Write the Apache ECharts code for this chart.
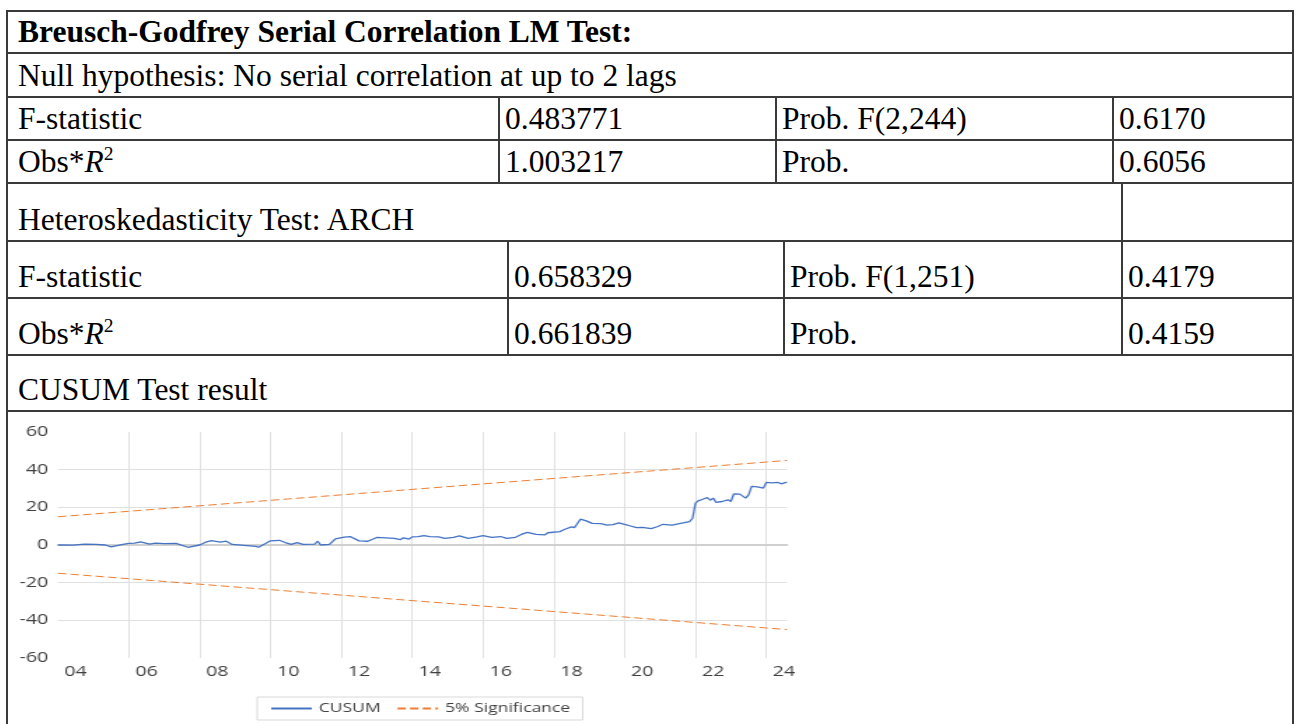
<!DOCTYPE html>
<html>
<head>
<meta charset="utf-8">
<title>CUSUM Test result</title>
<script src="https://cdn.jsdelivr.net/npm/echarts@6.0.0/dist/echarts.min.js"></script>
<style>
  html, body { margin: 0; padding: 0; background: #fff; }
  body { position: relative; width: 1295px; height: 724px; overflow: hidden; }
  .cell {
    position: absolute;
    box-sizing: border-box;
    border: 2px solid #3a3a3a;
    display: flex;
    align-items: flex-end;
    padding: 0 0 5px 5px;
    font-family: "Liberation Serif", "Times New Roman", serif;
    font-size: 31.5px;
    line-height: 1;
    color: #000;
    white-space: nowrap;
    overflow: hidden;
  }
  .cell.first { padding-left: 10px; }
  .cell.bold { font-weight: bold; }
  .cell .txt { display: block; line-height: 1; }
  .cell sup { font-size: 0.62em; vertical-align: 0.62em; line-height: 0; }
  /* 原图里的图表被横向拉伸过，这里用 scaleX 还原 */
  #chart {
    position: absolute;
    left: 8px;
    top: 412px;
    width: 917px;
    height: 312px;
    transform: scaleX(1.4);
    transform-origin: 0 0;
  }
</style>
</head>
<body>
<div id="cells"></div>
<div id="chart"></div>
<script>
  // CUSUM 数据（观测序号，从 2003M07 起算）
  const cusumObs = [
    0, 5, 9, 13, 16, 18, 22, 24, 26, 28, 31, 33, 36, 40, 44, 48, 50, 52, 55, 57,
    59, 63, 67, 68, 70, 72, 75, 77, 79, 81, 83, 87, 88, 89, 92, 94, 97, 99, 102, 105,
    108, 111, 114, 116, 117, 119, 120, 122, 124, 126, 129, 131, 134, 136, 139, 142, 144, 147, 150, 152,
    155, 157, 159, 162, 165, 166, 170, 172, 174, 175, 177, 179, 181, 184, 186, 188, 190, 192, 194, 196,
    198, 201, 203, 205, 208, 211, 214, 215, 216, 217, 218, 220, 221, 222, 223, 225, 227, 228, 229, 231,
    233, 234, 235, 237, 239, 240, 242, 244, 245, 247
  ]
  const cusumValues = [
    0.0, -0.1, 0.5, 0.3, 0.0, -1.0, 0.3, 0.9, 1.0, 1.7, 0.5, 1.0, 0.7, 0.9, -1.2, 0.0, 1.5, 2.3, 1.5, 2.0,
    0.3, -0.2, -0.7, -1.2, 0.5, 2.2, 2.5, 1.3, 0.3, 1.3, 0.3, 0.5, 2.0, 0.0, 0.3, 3.3, 4.2, 4.5, 2.2, 2.0,
    4.0, 3.8, 3.5, 2.8, 3.8, 3.1, 4.3, 4.5, 5.0, 4.5, 4.3, 3.5, 4.1, 4.8, 3.5, 4.3, 5.0, 4.1, 4.5, 3.5,
    4.1, 5.6, 6.7, 5.6, 5.4, 6.5, 7.1, 8.5, 9.6, 9.2, 13.7, 12.8, 11.5, 11.3, 10.6, 10.8, 11.7, 11.0, 10.1, 9.2,
    9.4, 8.7, 9.7, 11.0, 10.6, 11.5, 12.4, 14.2, 22.2, 23.6, 24.0, 25.2, 23.8, 24.9, 22.6, 23.1, 24.0, 23.1, 27.2, 27.0,
    24.9, 26.6, 31.1, 30.9, 30.2, 33.2, 33.0, 33.2, 32.5, 33.4
  ]

  // 5% 显著性边界（直线，只需两端）
  const boundObs = [0, 247]
  const upperBound = [15.0, 44.9]
  const lowerBound = [-15.0, -44.9]

  // 横轴年份标签及其位置（每年1月）
  const yearLabels = ['04', '06', '08', '10', '12', '14', '16', '18', '20', '22', '24']
  const yearLabelObs = [6, 30, 54, 78, 102, 126, 150, 174, 198, 222, 246]

  // 纵轴刻度
  const yMin = -60
  const yMax = 60
  const yStep = 20

  // 表格：每行的上下边线和各单元格 [左, 右, 内容, 样式]
  const tableRows = [
    { y: [11, 53], cells: [[7, 1293, 'Breusch-Godfrey Serial Correlation LM Test:', 'first bold']] },
    { y: [53, 97], cells: [[7, 1293, 'Null hypothesis: No serial correlation at up to 2 lags', 'first']] },
    { y: [97, 140], cells: [[7, 499, 'F-statistic', 'first'], [499, 776, '0.483771'], [776, 1113, 'Prob. F(2,244)'], [1113, 1293, '0.6170']] },
    { y: [140, 183], cells: [[7, 499, 'Obs*<i>R</i><sup>2</sup>', 'first'], [499, 776, '1.003217'], [776, 1113, 'Prob.'], [1113, 1293, '0.6056']] },
    { y: [183, 241], cells: [[7, 1122, 'Heteroskedasticity Test: ARCH', 'first'], [1122, 1293, '']] },
    { y: [241, 298], cells: [[7, 508, 'F-statistic', 'first'], [508, 784, '0.658329'], [784, 1122, 'Prob. F(1,251)'], [1122, 1293, '0.4179']] },
    { y: [298, 355], cells: [[7, 508, 'Obs*<i>R</i><sup>2</sup>', 'first'], [508, 784, '0.661839'], [784, 1122, 'Prob.'], [1122, 1293, '0.4159']] },
    { y: [355, 411], cells: [[7, 1293, 'CUSUM Test result', 'first']] },
    { y: [411, 740], cells: [[7, 1293, '']] }
  ]

  const drawTable = () => {
    const box = document.getElementById('cells')
    tableRows.forEach(row => {
      row.cells.forEach(([x0, x1, html, cls]) => {
        const div = document.createElement('div')
        div.className = 'cell' + (cls ? ' ' + cls : '')
        div.style.left = (x0 - 1) + 'px'
        div.style.top = (row.y[0] - 1) + 'px'
        div.style.width = (x1 - x0 + 2) + 'px'
        div.style.height = (row.y[1] - row.y[0] + 2) + 'px'
        if (html) {
          const span = document.createElement('span')
          span.className = 'txt'
          span.innerHTML = html
          div.appendChild(span)
        }
        box.appendChild(div)
      })
    })
  }

  const drawChart = () => {
    const chart = echarts.init(document.getElementById('chart'))
    const labelColor = '#404040'
    const gridColor = '#e0e0e0'

    const option = {
      animation: false,
      textStyle: { fontFamily: 'Open Sans' },
      grid: { left: 35.7, right: 360.6, top: 20, bottom: 66, containLabel: false },
      legend: {
        data: ['CUSUM', '5% Significance'],
        left: 178,
        top: 285,
        padding: [5, 9],
        itemWidth: 29,
        itemHeight: 10,
        itemGap: 11,
        borderColor: '#d9d9d9',
        borderWidth: 1,
        selectedMode: false,
        // 图例里只要线，不要圆点
        itemStyle: { opacity: 0 },
        textStyle: { color: labelColor, fontSize: 12.5, fontFamily: 'Open Sans' }
      },
      xAxis: [
        {
          // 网格竖线 + 零线
          type: 'value',
          position: 'top',
          min: 0,
          max: 247,
          interval: 24,
          axisLine: { show: true, onZero: true, lineStyle: { color: '#d0d0d0', width: 2 } },
          axisTick: { show: false },
          axisLabel: { show: false },
          splitLine: {
            show: true,
            showMinLine: false,
            showMaxLine: false,
            lineStyle: { color: gridColor, width: 1 }
          }
        },
        {
          // 年份标签
          type: 'value',
          position: 'bottom',
          min: 0,
          max: 247,
          axisLine: { show: false, onZero: false },
          axisTick: { show: false },
          splitLine: { show: false },
          axisLabel: {
            customValues: yearLabelObs,
            margin: 7,
            color: labelColor,
            fontSize: 14,
            fontFamily: 'Open Sans',
            formatter: value => {
              const i = yearLabelObs.indexOf(Math.round(value))
              return i >= 0 ? yearLabels[i] : ''
            }
          }
        }
      ],
      yAxis: {
        type: 'value',
        min: yMin,
        max: yMax,
        interval: yStep,
        axisLine: { show: false },
        axisTick: { show: false },
        axisLabel: { margin: 7, color: labelColor, fontSize: 14, fontFamily: 'Open Sans' },
        splitLine: {
          show: true,
          showMinLine: false,
          showMaxLine: false,
          lineStyle: { color: gridColor, width: 1 }
        }
      },
      series: [
        {
          name: 'CUSUM',
          type: 'line',
          xAxisIndex: 0,
          symbol: 'none',
          data: cusumObs.map((o, i) => [o, cusumValues[i]]),
          lineStyle: { color: '#4472c4', width: 1.3 },
          itemStyle: { color: '#4472c4' }
        },
        {
          name: '5% Significance',
          type: 'line',
          xAxisIndex: 0,
          symbol: 'none',
          data: boundObs.map((o, i) => [o, upperBound[i]]),
          lineStyle: { color: '#ed7d31', width: 1, type: [6, 3] },
          itemStyle: { color: '#ed7d31' }
        },
        {
          name: '5% Significance',
          type: 'line',
          xAxisIndex: 0,
          symbol: 'none',
          data: boundObs.map((o, i) => [o, lowerBound[i]]),
          lineStyle: { color: '#ed7d31', width: 1, type: [6, 3] },
          itemStyle: { color: '#ed7d31' }
        }
      ]
    }
    chart.setOption(option)
  }

  drawTable()
  drawChart()
</script>
</body>
</html>
